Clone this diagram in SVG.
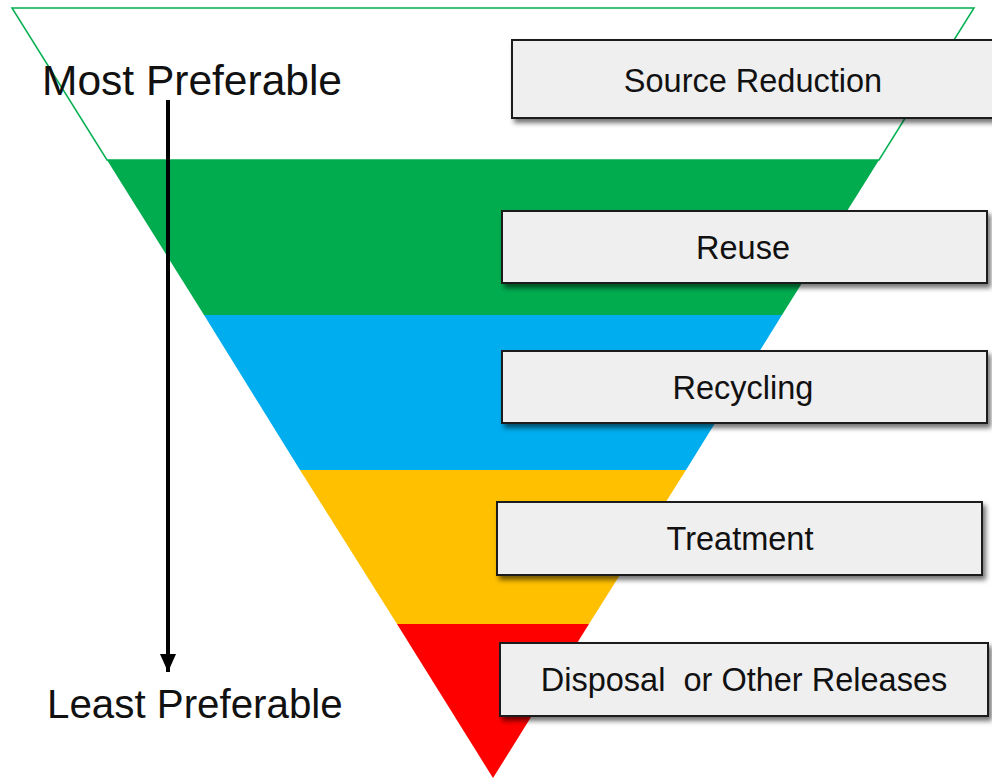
<svg xmlns="http://www.w3.org/2000/svg" width="992" height="778" viewBox="0 0 992 778">
<style>
text{font-family:"Liberation Sans",Arial,sans-serif;fill:#111;}
.lbl{font-size:32.5px;text-anchor:middle;white-space:pre;}
.box{fill:#EFEFEF;stroke:#1a1a1a;stroke-width:2;filter:url(#sh);}
</style>
<defs>
<filter id="sh" x="-5%" y="-20%" width="115%" height="150%">
<feDropShadow dx="3" dy="4" stdDeviation="2.5" flood-color="#000" flood-opacity="0.55"/>
</filter>
<marker id="ah" markerWidth="18" markerHeight="16" refX="18" refY="8" orient="auto" markerUnits="userSpaceOnUse" viewBox="0 0 18 16">
<path d="M0,0 L18,8 L0,16 Z" fill="#000"/>
</marker>
</defs>
<g id="pyramid">
<polygon id="level-top" points="12,8 974,8 879,160 107,160" fill="#fff" stroke="#00B050" stroke-width="1.5"/>
<polygon id="level-green" points="107,160 879,160 782,315 204,315" fill="#00AC4E"/>
<polygon id="level-blue" points="204,315 782,315 686,470 300,470" fill="#00ADEF"/>
<polygon id="level-yellow" points="300,470 686,470 589,624 397,624" fill="#FFC000"/>
<polygon id="level-red" points="397,624 589,624 493,778" fill="#FF0000"/>
</g>
<g id="node-source">
<rect class="box" x="512" y="40" width="484" height="78"/>
<text class="lbl" x="753" y="92">Source Reduction</text>
</g>
<g id="node-reuse">
<rect class="box" x="502" y="211" width="485" height="72"/>
<text class="lbl" x="743" y="259">Reuse</text>
</g>
<g id="node-recycling">
<rect class="box" x="502" y="351" width="485" height="72"/>
<text class="lbl" x="743" y="399">Recycling</text>
</g>
<g id="node-treatment">
<rect class="box" x="497" y="502" width="485" height="73"/>
<text class="lbl" x="740" y="550">Treatment</text>
</g>
<g id="node-disposal">
<rect class="box" x="500" y="643" width="488" height="73"/>
<text class="lbl" x="744" y="691">Disposal  or Other Releases</text>
</g>
<g id="label-most">
<text x="42" y="95" font-size="42.5">Most Preferable</text>
</g>
<g id="label-least">
<text x="47" y="718" font-size="40.3">Least Preferable</text>
</g>
<g id="connectors">
<line x1="168" y1="100" x2="168" y2="672" stroke="#000" stroke-width="4" marker-end="url(#ah)"/>
</g>
</svg>
